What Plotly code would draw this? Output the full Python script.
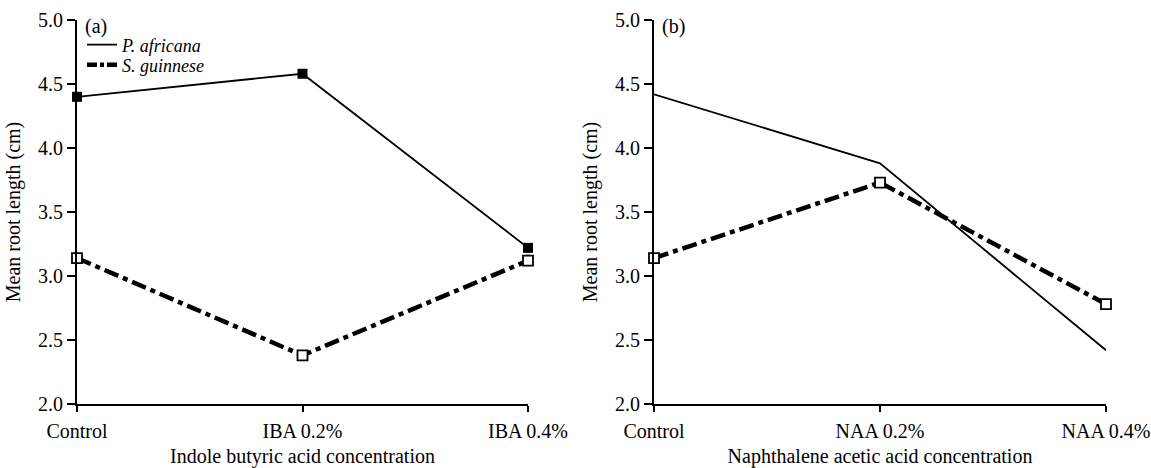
import plotly.graph_objects as go

cats_a = ["Control", "IBA 0.2%", "IBA 0.4%"]
cats_b = ["Control", "NAA 0.2%", "NAA 0.4%"]
pa_a = [4.40, 4.58, 3.22]
sg_a = [3.14, 2.38, 3.12]
pa_b = [4.42, 3.88, 2.42]
sg_b = [3.14, 3.73, 2.78]
y_ticks = [2.0, 2.5, 3.0, 3.5, 4.0, 4.5, 5.0]

FONT = "Liberation Serif, Times New Roman, serif"
FS = 20
DASH = "15px,5px,5px,5px"

fig = go.Figure()

# panel (a)
fig.add_trace(go.Scatter(x=cats_a, y=pa_a, mode="lines+markers", showlegend=False,
                         cliponaxis=False,
                         line=dict(color="black", width=1.8),
                         marker=dict(symbol="square", size=10, color="black"),
                         xaxis="x", yaxis="y"))
fig.add_trace(go.Scatter(x=cats_a, y=sg_a, mode="lines+markers", showlegend=False,
                         cliponaxis=False,
                         line=dict(color="black", width=4.5, dash=DASH),
                         marker=dict(symbol="square", size=10, color="white",
                                     line=dict(color="black", width=1.8)),
                         xaxis="x", yaxis="y"))
# panel (b)
fig.add_trace(go.Scatter(x=cats_b, y=pa_b, mode="lines", showlegend=False,
                         cliponaxis=False,
                         line=dict(color="black", width=1.8),
                         xaxis="x2", yaxis="y2"))
fig.add_trace(go.Scatter(x=cats_b, y=sg_b, mode="lines+markers", showlegend=False,
                         cliponaxis=False,
                         line=dict(color="black", width=4.5, dash=DASH),
                         marker=dict(symbol="square", size=10, color="white",
                                     line=dict(color="black", width=1.8)),
                         xaxis="x2", yaxis="y2"))
# legend entries
fig.add_trace(go.Scatter(x=[None], y=[None], mode="lines", name="<i>P. africana</i>",
                         legend="legend",
                         line=dict(color="black", width=1.8), xaxis="x", yaxis="y"))
fig.add_trace(go.Scatter(x=[None], y=[None], mode="lines", name="<i>S. guinnese</i>",
                         legend="legend2",
                         line=dict(color="black", width=4.5, dash="10px,3px,4px,3px"),
                         xaxis="x", yaxis="y"))

W, H = 1151, 468
xdom_a = [77 / W, 528 / W]
xdom_b = [654 / W, 1106 / W]
ydom = [(H - 404) / H, (H - 20) / H]

tfont = dict(family=FONT, size=FS, color="black")
lfont = dict(family=FONT, size=18, color="black")

common_x = dict(showline=True, linecolor="black", linewidth=2, ticks="outside",
                ticklen=6, tickwidth=2, tickcolor="black", showgrid=False,
                zeroline=False, range=[0, 2], automargin=False,
                ticklabelstandoff=2, tickfont=tfont)
common_y = dict(showline=True, linecolor="black", linewidth=2, ticks="outside",
                ticklen=8, tickwidth=2, tickcolor="black", showgrid=False,
                zeroline=False, range=[2, 5], tickvals=y_ticks,
                tickformat=".1f", automargin=False, domain=ydom,
                tickfont=tfont,
                title=dict(text="Mean root length (cm)", standoff=12, font=tfont))

fig.update_layout(
    width=W, height=H,
    paper_bgcolor="white", plot_bgcolor="white",
    margin=dict(l=0, r=0, t=0, b=0),
    font=dict(family=FONT, size=FS, color="black"),
    xaxis=dict(domain=xdom_a, anchor="y", **common_x,
               title=dict(text="Indole butyric acid concentration", standoff=16, font=tfont)),
    yaxis=dict(anchor="x", **common_y),
    xaxis2=dict(domain=xdom_b, anchor="y2", **common_x,
                title=dict(text="Naphthalene acetic acid concentration", standoff=16, font=tfont)),
    yaxis2=dict(anchor="x2", **common_y),
    legend=dict(x=82 / W, y=(H - 45) / H, xanchor="left", yanchor="middle",
                bgcolor="rgba(0,0,0,0)", itemwidth=30, font=lfont),
    legend2=dict(x=82 / W, y=(H - 65) / H, xanchor="left", yanchor="middle",
                 bgcolor="rgba(0,0,0,0)", itemwidth=30, font=lfont),
    annotations=[
        dict(text="(a)", x=83 / W, y=(H - 13) / H, xref="paper", yref="paper",
             xanchor="left", yanchor="top", showarrow=False, font=tfont),
        dict(text="(b)", x=660 / W, y=(H - 13) / H, xref="paper", yref="paper",
             xanchor="left", yanchor="top", showarrow=False, font=tfont),
    ],
)

fig.write_html("out.html", config={"displayModeBar": False},
               post_script="document.body.style.margin='0';")
